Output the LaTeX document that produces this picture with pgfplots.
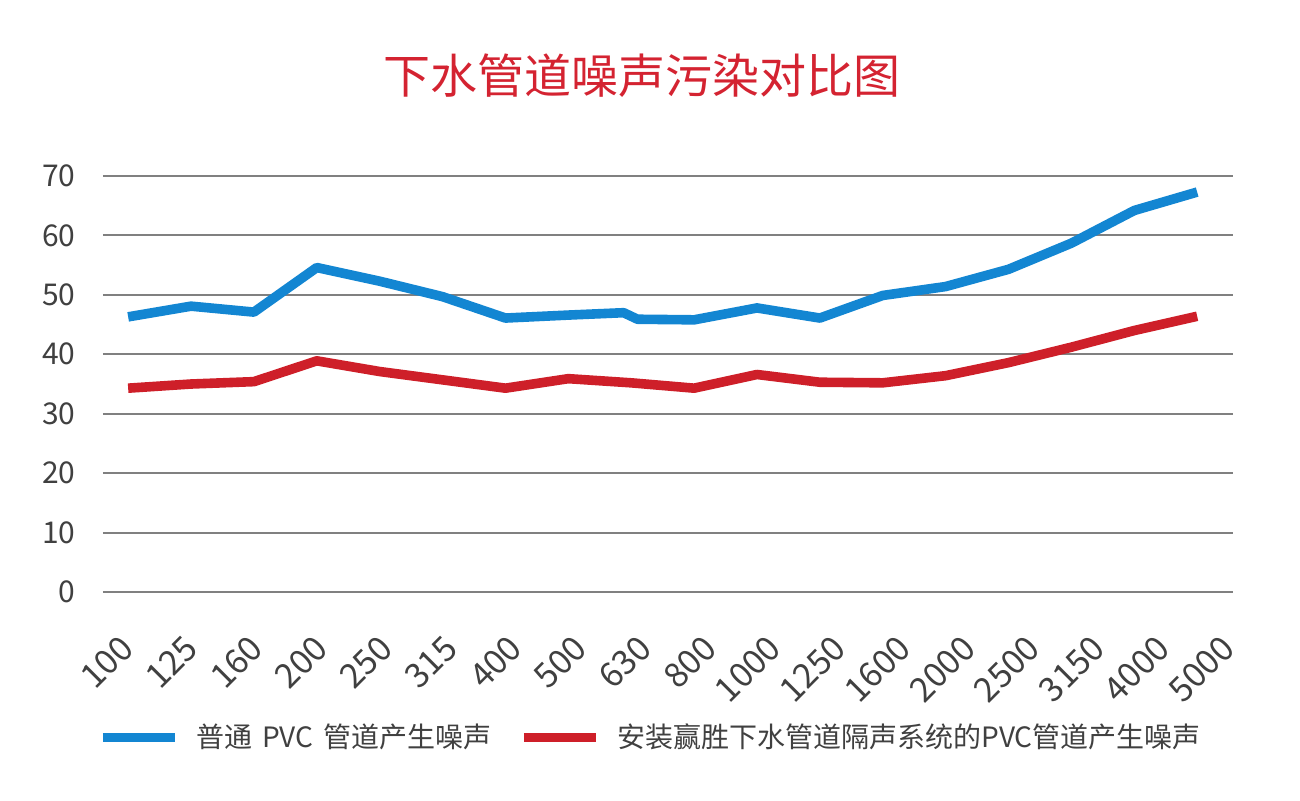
\documentclass[border=0pt]{standalone}
\usepackage{fontspec}
\setmainfont{Noto Sans CJK SC}
\usepackage{pgfplots}
\pgfplotsset{compat=1.18}
\definecolor{cblue}{HTML}{1386D2}
\definecolor{cred}{HTML}{CE1F29}
\definecolor{ctitle}{HTML}{D42331}
\definecolor{ctext}{HTML}{404040}
\definecolor{cgrid}{HTML}{808080}
\begin{document}
\begin{tikzpicture}
\useasboundingbox (-51.5pt,-104pt) rectangle (598.5pt,296pt);
\begin{axis}[
  scale only axis,
  width=565pt, height=208pt,
  xmin=-0.4, xmax=17.57,
  ymin=0, ymax=70,
  ytick={0,10,...,70},
  xtick={-0.015,1.015,2.045,3.075,4.105,5.135,6.165,7.195,8.225,9.255,10.285,11.315,12.345,13.375,14.405,15.435,16.465,17.495},
  xticklabels={100,125,160,200,250,315,400,500,630,800,1000,1250,1600,2000,2500,3150,4000,5000},
  major tick length=0pt,
  axis line style={draw=none},
  ymajorgrids,
  grid style={cgrid, line width=1pt},
  /pgf/number format/assume math mode=true,
  tick label style={text=ctext},
  yticklabel style={anchor=east, inner sep=0pt, font=\fontsize{15}{18}\selectfont},
  yticklabel shift=13.5pt,
  xticklabel style={rotate=45, anchor=east, inner sep=0pt, font=\fontsize{17}{20}\selectfont},
  xticklabel shift=25pt,
  title={下水管道噪声污染对比图},
  title style={at={(axis description cs:0.477,1.2115)}, anchor=center, font=\fontsize{23.5}{28}\selectfont, text=ctitle},
  legend columns=2,
  legend style={at={(axis description cs:-0.0044,-0.349)}, anchor=west, draw=none, fill=none, inner sep=0pt, font=\fontsize{14}{17}\selectfont, text=ctext, column sep=0pt, nodes={inner sep=0pt},
    /tikz/every odd column/.append style={column sep=8.5pt},
    /tikz/every even column/.append style={column sep=14pt}},
  legend image code/.code={\draw[#1, line cap=butt, line width=4.5pt] (0pt,0pt) -- (36pt,0pt);},
]
\addplot[cblue, line width=4.8pt, line join=round] coordinates {
(0,46.3) (1,48.1) (2,47.1) (3,54.6) (4,52.3) (5,49.7) (6,46.1) (7,46.6) (7.88,47.0) (8.1,45.9) (9,45.8) (10,47.8) (11,46.1) (12,49.9) (13,51.4) (14,54.3) (15,58.7) (16,64.2) (17,67.3)
};
\addlegendentry{普通\hspace{0.35em}PVC\hspace{0.35em}管道产生噪声}
\addplot[cred, line width=4.8pt, line join=round] coordinates {
(0,34.3) (1,35.0) (2,35.4) (3,38.9) (4,37.1) (5,35.7) (6,34.3) (7,35.9) (8,35.2) (9,34.3) (10,36.6) (11,35.3) (12,35.2) (13,36.4) (14,38.6) (15,41.2) (16,44.0) (17,46.4)
};
\addlegendentry{安装赢胜下水管道隔声系统的PVC管道产生噪声}
\end{axis}
\end{tikzpicture}
\end{document}
